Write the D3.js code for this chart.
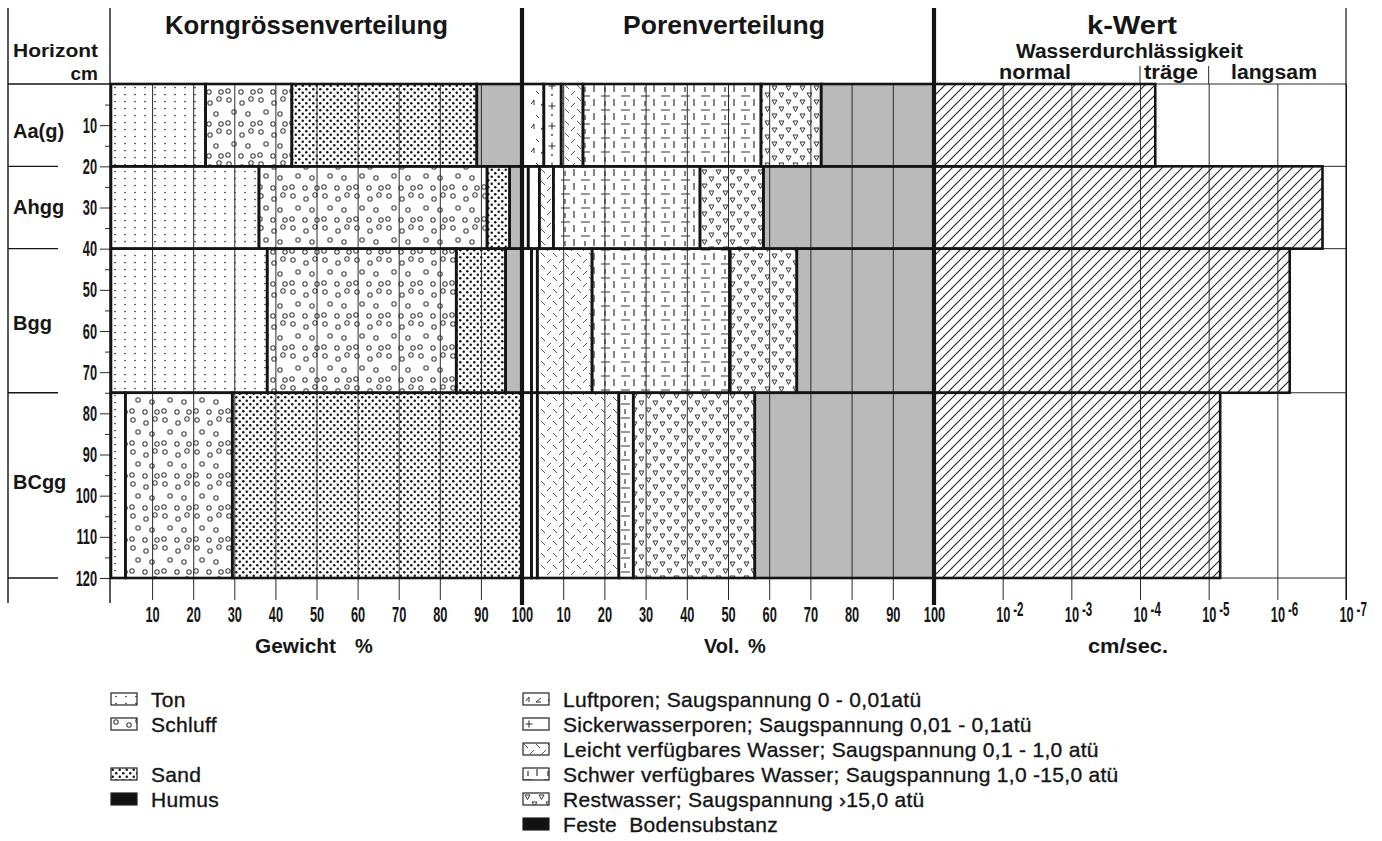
<!DOCTYPE html>
<html>
<head>
<meta charset="utf-8">
<script src="https://cdn.jsdelivr.net/npm/d3@7"></script>
<style>
  body { margin: 0; background: #fff; }
  svg { display: block; }
  text { font-family: "Liberation Sans", Arial, sans-serif; fill: #161616; }
</style>
</head>
<body>
<svg id="chart" width="1382" height="841"></svg>
<script>
// horizons and their depth (cm)
const horizons = ["Aa(g)", "Ahgg", "Bgg", "BCgg"];
const depthTop = [0, 20, 40, 75];
const depthBottom = [20, 40, 75, 120];
const depthTicks = [10, 20, 30, 40, 50, 60, 70, 80, 90, 100, 110, 120];
const depthMinor = [5, 15, 25, 35, 45, 55, 65, 75, 85, 95, 105, 115];

// Korngrössenverteilung, Gewicht %
const kornKeys = ["Ton", "Schluff", "Sand", "Humus"];
const ton = [23, 36, 38, 3.5];
const schluff = [21, 55.5, 46, 26];
const sand = [45, 5.5, 12, 70.5];
const humus = [11, 3, 4, 0];

// Porenverteilung, Vol. %
const porenKeys = ["Luftporen", "Sickerwasserporen", "Leicht", "Schwer", "Restwasser", "Feste"];
const luftporen = [5.3, 1.5, 2.3, 2.3];
const sickerwasser = [4.2, 2.7, 1.4, 1.4];
const leicht = [5.3, 3.4, 13.3, 19.8];
const schwer = [43.2, 35.6, 33.5, 3.5];
const restwasser = [14.6, 15.4, 16.2, 29.5];
const feste = [27.4, 41.4, 33.3, 43.5];

// k-Wert, cm/sec
const kWert = [6.0e-5, 2.2e-7, 6.6e-7, 6.8e-6];

const pctTicks = [10, 20, 30, 40, 50, 60, 70, 80, 90, 100];
const kTicks = [1e-1, 1e-2, 1e-3, 1e-4, 1e-5, 1e-6, 1e-7];
const kTickExp = ["", "-2", "-3", "-4", "-5", "-6", "-7"];

const kornLegend = ["Ton", "Schluff", "Sand", "Humus"];
const porenLegend = [
  "Luftporen; Saugspannung 0 - 0,01atü",
  "Sickerwasserporen; Saugspannung 0,01 - 0,1atü",
  "Leicht verfügbares Wasser; Saugspannung 0,1 - 1,0 atü",
  "Schwer verfügbares Wasser; Saugspannung 1,0 -15,0 atü",
  "Restwasser; Saugspannung ›15,0 atü",
  "Feste  Bodensubstanz"
];

const svg = d3.select("#chart");
const ink = "#141414";
const gray = "#bababa";

const y = d3.scaleLinear().domain([0, 120]).range([84, 578]);
const xKorn = d3.scaleLinear().domain([0, 100]).range([111, 522]);
const xPoren = d3.scaleLinear().domain([0, 100]).range([522, 934]);
const xK = d3.scaleLog().domain([1e-1, 1e-7]).range([934, 1346]);

// ---- patterns
const defs = svg.append("defs");
function pattern(id, w, h, draw) {
  const p = defs.append("pattern").attr("id", id)
    .attr("patternUnits", "userSpaceOnUse").attr("width", w).attr("height", h);
  p.append("rect").attr("width", w).attr("height", h).attr("fill", "#fff");
  draw(p);
}
pattern("ton", 10, 7, p => p.append("circle").attr("cx", 5).attr("cy", 3.5).attr("r", 0.85).attr("fill", "#333"));
pattern("schluff", 32, 32, p => {
  [[5, 4], [18, 7], [27, 3], [10, 16], [24, 18], [4, 27], [17, 28], [29, 28]]
    .forEach(([cx, cy]) => p.append("circle").attr("cx", cx).attr("cy", cy).attr("r", 2.2)
      .attr("fill", "none").attr("stroke", "#444").attr("stroke-width", 1.1));
});
pattern("sand", 7, 7, p => {
  p.append("circle").attr("cx", 1.75).attr("cy", 1.75).attr("r", 1.25).attr("fill", "#111");
  p.append("circle").attr("cx", 5.25).attr("cy", 5.25).attr("r", 1.25).attr("fill", "#111");
});
pattern("luft", 22, 24, p => p.append("path")
  .attr("d", "M3,8 l3,-4 v5 M13,9 l5,-4 M13,9 h5 M8,19 l3,3")
  .attr("fill", "none").attr("stroke", "#333").attr("stroke-width", 1));
pattern("sicker", 26, 20, p => {
  p.append("path").attr("d", "M2.5,6 h7 M6,2.5 v7").attr("stroke", "#333").attr("stroke-width", 1.1);
  p.append("circle").attr("cx", 6).attr("cy", 15).attr("r", 0.9).attr("fill", "#333");
});
pattern("leicht", 12, 12, p => p.append("path")
  .attr("d", "M1,1 l4,4 M7,11 l4,-4")
  .attr("fill", "none").attr("stroke", "#555").attr("stroke-width", 1));
pattern("schwer", 20, 14, p => p.append("path")
  .attr("d", "M1,12 h9 M14,1 v7 M5,3 v5")
  .attr("fill", "none").attr("stroke", "#333").attr("stroke-width", 1.2));
pattern("rest", 14, 14, p => p.append("path")
  .attr("d", "M2,2 h5 l-2.5,4.5 z M9,9 h5 l-2.5,4.5 z")
  .attr("fill", "none").attr("stroke", "#333").attr("stroke-width", 1));
pattern("hatch", 10, 10, p => p.append("path")
  .attr("d", "M-1,1 l2,-2 M0,10 l10,-10 M9,11 l2,-2")
  .attr("stroke", "#222").attr("stroke-width", 1.1));

const kornFills = ["url(#ton)", "url(#schluff)", "url(#sand)", gray];
const porenFills = ["url(#luft)", "url(#sicker)", "url(#leicht)", "url(#schwer)", "url(#rest)", gray];

// ---- stacked bars
function drawStack(keys, seriesList, x, fills) {
  const table = horizons.map((h, i) => {
    const r = { i };
    keys.forEach((k, j) => { r[k] = seriesList[j][i]; });
    return r;
  });
  const stacked = d3.stack().keys(keys)(table);
  svg.append("g").selectAll("g").data(stacked).join("g")
    .attr("fill", (d, j) => fills[j])
    .selectAll("rect").data(d => d.filter(s => s[1] > s[0])).join("rect")
    .attr("x", d => x(d[0]))
    .attr("y", d => y(depthTop[d.data.i]))
    .attr("width", d => x(d[1]) - x(d[0]))
    .attr("height", d => y(depthBottom[d.data.i]) - y(depthTop[d.data.i]));
  return stacked;
}
function outline(stacked, x) {
  svg.append("g").attr("fill", "none").attr("stroke", ink).attr("stroke-width", 2.6)
    .selectAll("rect").data(stacked.flat().filter(s => s[1] > s[0])).join("rect")
    .attr("x", d => x(d[0]))
    .attr("y", d => y(depthTop[d.data.i]))
    .attr("width", d => x(d[1]) - x(d[0]))
    .attr("height", d => y(depthBottom[d.data.i]) - y(depthTop[d.data.i]));
}

const kornStack = drawStack(kornKeys, [ton, schluff, sand, humus], xKorn, kornFills);
const porenStack = drawStack(porenKeys, [luftporen, sickerwasser, leicht, schwer, restwasser, feste], xPoren, porenFills);

// k-Wert bars
svg.append("g").selectAll("rect").data(kWert).join("rect")
  .attr("x", xK(1e-1)).attr("y", (d, i) => y(depthTop[i]))
  .attr("width", d => xK(d) - xK(1e-1))
  .attr("height", (d, i) => y(depthBottom[i]) - y(depthTop[i]))
  .attr("fill", "url(#hatch)");

// ---- axes & grid
function styleTicks(g) {
  g.select(".domain").remove();
  g.selectAll(".tick line").attr("stroke", "#2a2a2a").attr("stroke-width", 1);
  g.selectAll(".tick text").attr("font-size", 22).attr("font-weight", "bold")
    .attr("fill", ink).attr("transform", "scale(0.58,1)");
}
const axKorn = svg.append("g").attr("transform", "translate(0,600)")
  .call(d3.axisBottom(xKorn).tickValues(pctTicks).tickSize(-516).tickPadding(6).tickSizeOuter(0));
styleTicks(axKorn);
const axPoren = svg.append("g").attr("transform", "translate(0,600)")
  .call(d3.axisBottom(xPoren).tickValues(pctTicks).tickSize(-516).tickPadding(6).tickSizeOuter(0));
styleTicks(axPoren);
const axK = svg.append("g").attr("transform", "translate(0,600)")
  .call(d3.axisBottom(xK).tickValues(kTicks.slice(1)).tickSize(-516).tickPadding(6)
    .tickFormat(() => "").tickSizeOuter(0));
styleTicks(axK);
axK.selectAll(".tick text").each(function (d) {
  const t = d3.select(this).attr("text-anchor", "start").attr("x", -7 / 0.58);
  t.append("tspan").text("10");
  t.append("tspan").attr("dx", 5).attr("dy", -6).attr("font-size", 20).text(kTickExp[kTicks.indexOf(d)]);
});

// right panel horizontals and extended grid lines
const thin = svg.append("g").attr("stroke", "#2a2a2a").attr("stroke-width", 1);
[0, ...depthBottom].forEach(d => thin.append("line")
  .attr("x1", xK(1e-1)).attr("x2", xK(1e-7)).attr("y1", y(d)).attr("y2", y(d)));
[1e-4, 1e-5].forEach(v => thin.append("line")
  .attr("x1", xK(v)).attr("x2", xK(v)).attr("y1", 66).attr("y2", y(0)));

// depth axis
const axY = svg.append("g").attr("transform", "translate(110,0)")
  .call(d3.axisLeft(y).tickValues(depthTicks).tickSize(10).tickSizeOuter(0));
styleTicks(axY);
axY.selectAll(".tick text").attr("x", -13 / 0.58);
const axYm = svg.append("g").attr("transform", "translate(110,0)")
  .call(d3.axisLeft(y).tickValues(depthMinor).tickSize(5).tickFormat(() => "").tickSizeOuter(0));
axYm.select(".domain").remove();
axYm.selectAll(".tick line").attr("stroke", "#2a2a2a");

// outlines
outline(kornStack, xKorn);
outline(porenStack, xPoren);
svg.append("g").attr("fill", "none").attr("stroke", ink).attr("stroke-width", 2.6)
  .selectAll("rect").data(kWert).join("rect")
  .attr("x", xK(1e-1)).attr("y", (d, i) => y(depthTop[i]))
  .attr("width", d => xK(d) - xK(1e-1))
  .attr("height", (d, i) => y(depthBottom[i]) - y(depthTop[i]));

// frame lines
const frame = svg.append("g").attr("stroke", ink);
frame.append("line").attr("x1", 8).attr("x2", 8).attr("y1", 8).attr("y2", 603).attr("stroke-width", 1.4);
frame.append("line").attr("x1", 110).attr("x2", 110).attr("y1", 8).attr("y2", 603).attr("stroke-width", 1.4);
frame.append("line").attr("x1", xK(1e-7)).attr("x2", xK(1e-7)).attr("y1", 8).attr("y2", 600).attr("stroke-width", 1.2);
frame.append("line").attr("x1", 8).attr("x2", 110).attr("y1", y(0)).attr("y2", y(0)).attr("stroke-width", 1.4);
depthBottom.forEach(d => frame.append("line")
  .attr("x1", 8).attr("x2", 58).attr("y1", y(d)).attr("y2", y(d)).attr("stroke-width", 1.4));
[xPoren(0), xPoren(100)].forEach(x => frame.append("line")
  .attr("x1", x).attr("x2", x).attr("y1", 8).attr("y2", 605).attr("stroke-width", 4.2));

// ---- texts
function label(x, yy, txt, size, opts = {}) {
  const t = svg.append("text").attr("x", x).attr("y", yy).attr("font-size", size)
    .attr("font-weight", opts.weight || "bold").attr("text-anchor", opts.anchor || "start").text(txt);
  if (opts.len) t.attr("textLength", opts.len).attr("lengthAdjust", "spacingAndGlyphs");
  return t;
}
label(165, 34, "Korngrössenverteilung", 26, { len: 283 });
label(623, 34, "Porenverteilung", 26, { len: 202 });
label(1087, 34, "k-Wert", 26, { len: 90 });
label(1016, 58, "Wasserdurchlässigkeit", 20, { len: 227 });
label(999, 79, "normal", 20, { len: 72 });
label(1144, 79, "träge", 20, { len: 54 });
label(1231, 79, "langsam", 20, { len: 86 });
label(13, 57, "Horizont", 19, { len: 85 });
label(98, 80, "cm", 19, { anchor: "end" });

const horizonBase = [138, 214, 330, 489];
horizons.forEach((h, i) => label(13, horizonBase[i], h, 20));

label(255, 653, "Gewicht", 20, { len: 81 });
label(355, 653, "%", 20);
label(704, 653, "Vol.", 20);
label(748, 653, "%", 20);
label(1088, 653, "cm/sec.", 20, { len: 80 });

// ---- legends
function legendItem(g, x, cy, fill, name) {
  const icon = g.append("g").attr("transform", `translate(${x},${cy - 6})`);
  icon.append("rect").attr("width", 26).attr("height", 12)
    .attr("fill", fill).attr("stroke", "#222").attr("stroke-width", 1.2);
  g.append("text").attr("x", x + 40).attr("y", cy + 7.5).attr("font-size", 21)
    .attr("letter-spacing", 0.3).attr("xml:space", "preserve")
    .attr("stroke", ink).attr("stroke-width", 0.35).text(name);
}
const legKorn = svg.append("g");
const kornRows = [0, 1, 3, 4];
const kornLegendFills = ["url(#ton)", "url(#schluff)", "url(#sand)", "#111"];
kornLegend.forEach((name, i) => legendItem(legKorn, 111, 699 + 25 * kornRows[i], kornLegendFills[i], name));
const legPoren = svg.append("g");
const porenLegendFills = ["url(#luft)", "url(#sicker)", "url(#leicht)", "url(#schwer)", "url(#rest)", "#111"];
porenLegend.forEach((name, i) => legendItem(legPoren, 523, 699 + 25 * i, porenLegendFills[i], name));
</script>
</body>
</html>
